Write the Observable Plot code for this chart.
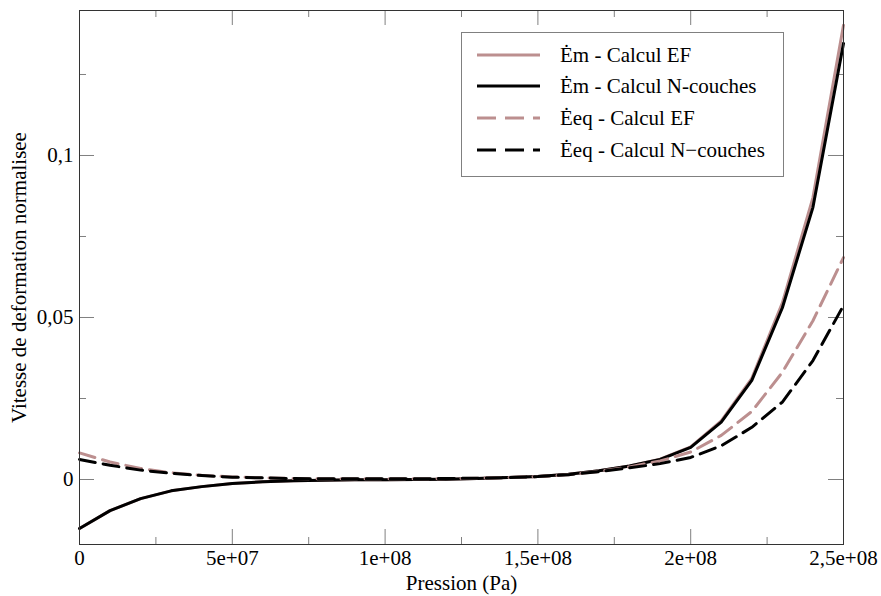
<!DOCTYPE html>
<html>
<head>
<meta charset="utf-8">
<script src="https://cdn.jsdelivr.net/npm/d3@7"></script>
<script src="https://cdn.jsdelivr.net/npm/@observablehq/plot@0.6"></script>
<style>
  html, body { margin: 0; padding: 0; background: #fff; }
  #wrap { position: relative; width: 881px; height: 596px; font-family: "Liberation Serif", "Times New Roman", serif; }
  #legend { position: absolute; left: 461px; top: 32px; width: 321px; height: 143px; border: 1px solid #808080; background: #fff; }
  .row { position: absolute; left: 0; height: 24px; }
  .row svg { position: absolute; left: 15px; top: 0; }
  .row span { position: absolute; left: 98px; top: 0px; line-height: 24px; font-size: 21px; white-space: nowrap; color: #000; }
</style>
</head>
<body>
<div id="wrap"></div>
<script>
// ---- data ----
const pression = [0, 1e7, 2e7, 3e7, 4e7, 5e7, 6e7, 7e7, 8e7, 9e7, 1e8, 1.1e8, 1.2e8, 1.3e8, 1.4e8, 1.5e8, 1.6e8, 1.7e8, 1.8e8, 1.9e8, 2e8, 2.1e8, 2.2e8, 2.3e8, 2.4e8, 2.5e8];
const emEF  = [-0.0151, -0.0096, -0.0059, -0.0035, -0.0022, -0.0012, -0.0007, -0.0004, -0.0002, -0.0001, -0.0001, 0.0000, 0.0001, 0.0003, 0.0006, 0.0009, 0.0016, 0.0027, 0.0042, 0.0063, 0.0101, 0.0181, 0.0312, 0.0545, 0.0870, 0.1402];
const emNC  = [-0.0151, -0.0096, -0.0059, -0.0035, -0.0022, -0.0012, -0.0007, -0.0004, -0.0002, -0.0001, -0.0001, 0.0000, 0.0001, 0.0003, 0.0006, 0.0009, 0.0016, 0.0027, 0.0042, 0.0062, 0.0099, 0.0177, 0.0306, 0.0530, 0.0840, 0.1346];
const eeqEF = [0.0082, 0.0054, 0.0034, 0.0021, 0.0013, 0.0008, 0.0005, 0.0003, 0.0002, 0.0002, 0.0002, 0.0002, 0.0003, 0.0004, 0.0006, 0.0009, 0.0015, 0.0025, 0.0039, 0.0057, 0.0085, 0.0136, 0.0210, 0.0331, 0.0490, 0.0685];
const eeqNC = [0.0062, 0.0044, 0.0029, 0.0019, 0.0012, 0.0007, 0.0005, 0.0003, 0.0002, 0.0002, 0.0002, 0.0002, 0.0003, 0.0004, 0.0006, 0.0009, 0.0015, 0.0024, 0.0036, 0.0049, 0.0068, 0.0104, 0.0161, 0.0239, 0.0367, 0.0537];

const xMajor = [0, 5e7, 1e8, 1.5e8, 2e8, 2.5e8];
const xMajorLabels = ["0", "5e+07", "1e+08", "1,5e+08", "2e+08", "2,5e+08"];
const xMinor = [2.5e7, 7.5e7, 1.25e8, 1.75e8, 2.25e8];
const yMajor = [0, 0.05, 0.1];
const yMajorLabels = ["0", "0,05", "0,1"];
const yMinor = [0.025, 0.075, 0.125];

const seriesNames = ["Ėm - Calcul EF", "Ėm - Calcul N-couches", "Ėeq - Calcul EF", "Ėeq - Calcul N−couches"];
const seriesColors = ["#bc8f8f", "#000000", "#bc8f8f", "#000000"];
const seriesDash = [null, null, "16,8", "16,8"];
const seriesValues = [emEF, emNC, eeqEF, eeqNC];

const xLabel = "Pression (Pa)";
const yLabel = "Vitesse de deformation normalisee";

// ---- layout ----
const W = 881, H = 596;
const mL = 79, mR = 38, mT = 10, mB = 52;
const fw = W - mL - mR, fh = H - mT - mB;
const majLen = 15, minLen = 7;
const tickColor = "#808080";
const serif = "'Liberation Serif', 'Times New Roman', serif";

const lineMarks = seriesValues.map((vals, k) =>
  Plot.line(pression.map((p, i) => ({p, v: vals[i]})), {
    x: "p", y: "v", stroke: seriesColors[k], strokeWidth: 3,
    strokeDasharray: seriesDash[k], strokeLinejoin: "round"
  })
);

const chart = Plot.plot({
  width: W, height: H,
  marginLeft: mL, marginRight: mR, marginTop: mT, marginBottom: mB,
  style: {fontFamily: serif, fontSize: "21px", color: "#000", background: "#fff"},
  x: {domain: [0, 2.5e8]},
  y: {domain: [-0.02006, 0.14475]},
  marks: [
    // ticks (inward, all four sides)
    Plot.tickX(xMajor, {x: d => d, insetTop: fh - majLen, stroke: tickColor}),
    Plot.tickX(xMinor, {x: d => d, insetTop: fh - minLen, stroke: tickColor}),
    Plot.tickX(xMajor, {x: d => d, insetBottom: fh - majLen, stroke: tickColor}),
    Plot.tickX(xMinor, {x: d => d, insetBottom: fh - minLen, stroke: tickColor}),
    Plot.tickY(yMajor, {y: d => d, insetRight: fw - majLen, stroke: tickColor}),
    Plot.tickY(yMinor, {y: d => d, insetRight: fw - minLen, stroke: tickColor}),
    Plot.tickY(yMajor, {y: d => d, insetLeft: fw - majLen, stroke: tickColor}),
    Plot.tickY(yMinor, {y: d => d, insetLeft: fw - minLen, stroke: tickColor}),
    ...lineMarks,
    Plot.frame({stroke: "#333"}),
    Plot.axisX(xMajor, {tickSize: 0, tickPadding: 6, fontSize: 21, fontFamily: serif, tickFormat: d => xMajorLabels[xMajor.indexOf(d)], label: null}),
    Plot.axisY(yMajor, {tickSize: 0, tickPadding: 6, fontSize: 21, fontFamily: serif, tickFormat: d => yMajorLabels[yMajor.indexOf(d)], label: null}),
    Plot.text([xLabel], {frameAnchor: "bottom", lineAnchor: "middle", dy: 39, fontSize: 21, fontFamily: serif, fill: "#000"}),
    Plot.text([yLabel], {frameAnchor: "left", textAnchor: "middle", lineAnchor: "middle", dx: -60, rotate: -90, fontSize: 21, fontFamily: serif, fill: "#000"})
  ]
});

const wrap = document.getElementById("wrap");
wrap.appendChild(chart);

// legend overlay (inside plot area, like the original)
const legend = document.createElement("div");
legend.id = "legend";
const rowTops = [10, 41, 73, 105];
seriesNames.forEach((name, k) => {
  const row = document.createElement("div");
  row.className = "row";
  row.style.top = rowTops[k] + "px";
  row.style.width = "320px";
  const dash = seriesDash[k] ? 'stroke-dasharray="19,9"' : "";
  row.innerHTML = `<svg width="64" height="24"><line x1="0" x2="63" y1="12" y2="12" stroke="${seriesColors[k]}" stroke-width="3" ${dash}/></svg><span>${name}</span>`;
  legend.appendChild(row);
});
wrap.appendChild(legend);
</script>
</body>
</html>
